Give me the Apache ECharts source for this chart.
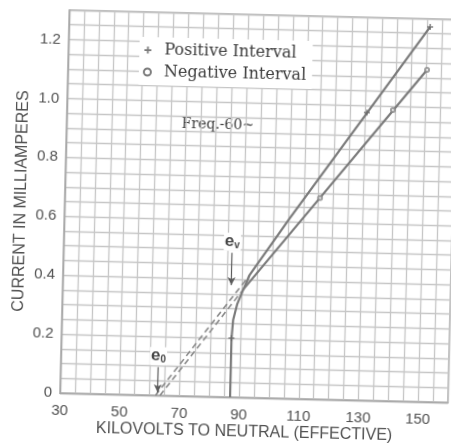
<!DOCTYPE html>
<html>
<head>
<meta charset="utf-8">
<style>
  html, body { margin: 0; padding: 0; background: #ffffff; overflow: hidden; }
  #chart {
    width: 451px; height: 443px;
    /* the sheet sits slightly turned on the page */
    transform-origin: 60px 393px;
    transform: rotate(1.4deg);
  }
</style>
<script src="https://cdn.jsdelivr.net/npm/echarts/dist/echarts.min.js"></script>
</head>
<body>
<div id="chart"></div>
<script>
// Axis tick labels
const kvTicks = [30, 50, 70, 90, 110, 130, 150];
const maTicks = [0, 0.2, 0.4, 0.6, 0.8, 1.0, 1.2];

// Axis titles
const xTitle = 'KILOVOLTS TO NEUTRAL (EFFECTIVE)';
const yTitle = 'CURRENT IN MILLIAMPERES';

// Positive interval: steep onset near 87 kV, then a straight rise
const posKv = [87, 87, 87.4, 88.6, 90.5, 92.5, 105.6, 151];
const posMa = [0, 0.2, 0.262, 0.315, 0.365, 0.415, 0.613, 1.273];

// Negative interval: straight rise from the common knee
const negKv = [90.5, 110, 150.3];
const negMa = [0.366, 0.614, 1.127];

// Straight portions extrapolated back to zero current
const posExtKv = [62, 92.5];
const posExtMa = [0, 0.415];
const negExtKv = [63.5, 90.5];
const negExtMa = [0, 0.366];

// Observed points
const posPtKv = [87, 130.5, 151];
const posPtMa = [0.2, 0.977, 1.273];
const negPtKv = [115.5, 139.2, 150.3];
const negPtMa = [0.683, 0.988, 1.127];

// Critical voltages marked by arrows
const e0Kv = 62.7;
const evKv = 86.5;

const pairs = (xs, ys) => xs.map((x, i) => [x, ys[i]]);

const plusPath = 'path://M3,0h2v3h3v2h-3v3h-2v-3h-3v-2h3z';
const lineGray = '#7b7b7b';
const textGray = '#505050';
const sans = '"Liberation Sans", Arial, sans-serif';
const serif = '"DejaVu Serif", "Liberation Serif", serif';

const chart = echarts.init(document.getElementById('chart'), null, { renderer: 'canvas' });

const subRich = {
  e: { fontFamily: sans, fontSize: 17, fontWeight: 'bold', color: '#474747' },
  s: { fontFamily: sans, fontSize: 10, fontWeight: 'bold', color: '#474747', padding: [8, 0, 0, 0] }
};

chart.setOption({
  animation: false,
  backgroundColor: '#ffffff',
  grid: {
    left: 60, right: 3, top: 10, bottom: 50,
    show: true, borderColor: '#a8a8a8', borderWidth: 1.4
  },
  legend: {
    data: [
      { name: 'Positive Interval', icon: plusPath },
      { name: 'Negative Interval', icon: 'emptyCircle' }
    ],
    orient: 'vertical',
    left: 131, top: 35,
    itemWidth: 7, itemHeight: 7, itemGap: 4,
    backgroundColor: '#ffffff',
    padding: [4, 6, 4, 4],
    selectedMode: false,
    textStyle: { fontFamily: serif, fontSize: 16, color: '#3c3c3c', lineHeight: 18, padding: [0, 0, 0, 8] }
  },
  xAxis: {
    type: 'value',
    min: 30, max: 160, interval: 5,
    axisLine: { show: true, lineStyle: { color: '#a8a8a8', width: 1.4 } },
    axisTick: { show: false },
    axisLabel: {
      interval: 0, margin: 10, showMaxLabel: false,
      fontFamily: sans, fontSize: 15, color: textGray,
      formatter: v => (kvTicks.indexOf(Math.round(v)) >= 0 && Math.abs(v - Math.round(v)) < 1e-6) ? String(Math.round(v)) : ''
    },
    splitLine: { show: true, lineStyle: { color: '#c6c6c6', width: 1.3 } }
  },
  yAxis: {
    type: 'value',
    min: 0, max: 1.3, interval: 0.05,
    axisLine: { show: true, lineStyle: { color: '#a8a8a8', width: 1.4 } },
    axisTick: { show: false },
    axisLabel: {
      interval: 0, margin: 8, showMaxLabel: false,
      fontFamily: sans, fontSize: 15, color: textGray,
      formatter: v => {
        const t = maTicks.find(m => Math.abs(m - v) < 1e-6);
        if (t === undefined) return '';
        return t === 0 ? '0' : t.toFixed(1);
      }
    },
    splitLine: { show: true, lineStyle: { color: '#c6c6c6', width: 1.3 } }
  },
  graphic: [
    {
      type: 'text',
      x: 245, y: 428,
      style: {
        text: xTitle, font: '16px ' + sans, fill: textGray,
        align: 'center', verticalAlign: 'middle'
      }
    },
    {
      type: 'text',
      x: 17, y: 202, rotation: Math.PI / 2,
      style: {
        text: yTitle, font: '16px ' + sans, fill: textGray,
        align: 'center', verticalAlign: 'middle'
      }
    },
    {
      type: 'text',
      left: 173, top: 113,
      style: {
        text: 'Freq.-60~',
        font: '14px ' + serif,
        fill: '#3a3a3a',
        backgroundColor: '#ffffff',
        padding: [1, 2]
      }
    }
  ],
  series: [
    {
      name: 'Positive Interval', type: 'line',
      data: pairs(posKv, posMa),
      showSymbol: false, z: 4,
      itemStyle: { color: lineGray },
      lineStyle: { color: lineGray, width: 2.2 }
    },
    {
      name: 'Negative Interval', type: 'line',
      data: pairs(negKv, negMa),
      showSymbol: false, z: 4,
      itemStyle: { color: lineGray },
      lineStyle: { color: lineGray, width: 2.2 }
    },
    {
      name: 'Positive Interval', type: 'line',
      data: pairs(posExtKv, posExtMa),
      showSymbol: false, z: 3,
      lineStyle: { color: '#8a8a8a', width: 1.6, type: [6, 4] }
    },
    {
      name: 'Negative Interval', type: 'line',
      data: pairs(negExtKv, negExtMa),
      showSymbol: false, z: 3,
      lineStyle: { color: '#8a8a8a', width: 1.6, type: [6, 4] },
      markLine: {
        silent: true,
        symbol: ['none', 'arrow'],
        symbolSize: [6, 8],
        lineStyle: { type: 'solid', color: '#5a5a5a', width: 1.2 },
        label: {
          position: 'start', distance: 2,
          backgroundColor: '#ffffff', padding: [0, 1],
          rich: subRich
        },
        data: [
          [{ coord: [e0Kv, 0.096], label: { formatter: '{e|e}{s|0}' } }, { coord: [e0Kv, 0.01] }],
          [{ coord: [evKv, 0.49], label: { formatter: '{e|e}{s|v}' } }, { coord: [evKv, 0.38] }]
        ]
      }
    },
    {
      name: 'Positive Interval', type: 'scatter',
      data: pairs(posPtKv, posPtMa),
      symbol: plusPath, symbolSize: 6, z: 5,
      itemStyle: { color: '#666666' }
    },
    {
      name: 'Negative Interval', type: 'scatter',
      data: pairs(negPtKv, negPtMa),
      symbol: 'emptyCircle', symbolSize: 4, z: 5,
      itemStyle: { color: '#8a8a8a', borderColor: '#8a8a8a', borderWidth: 1 }
    }
  ]
});
</script>
</body>
</html>
